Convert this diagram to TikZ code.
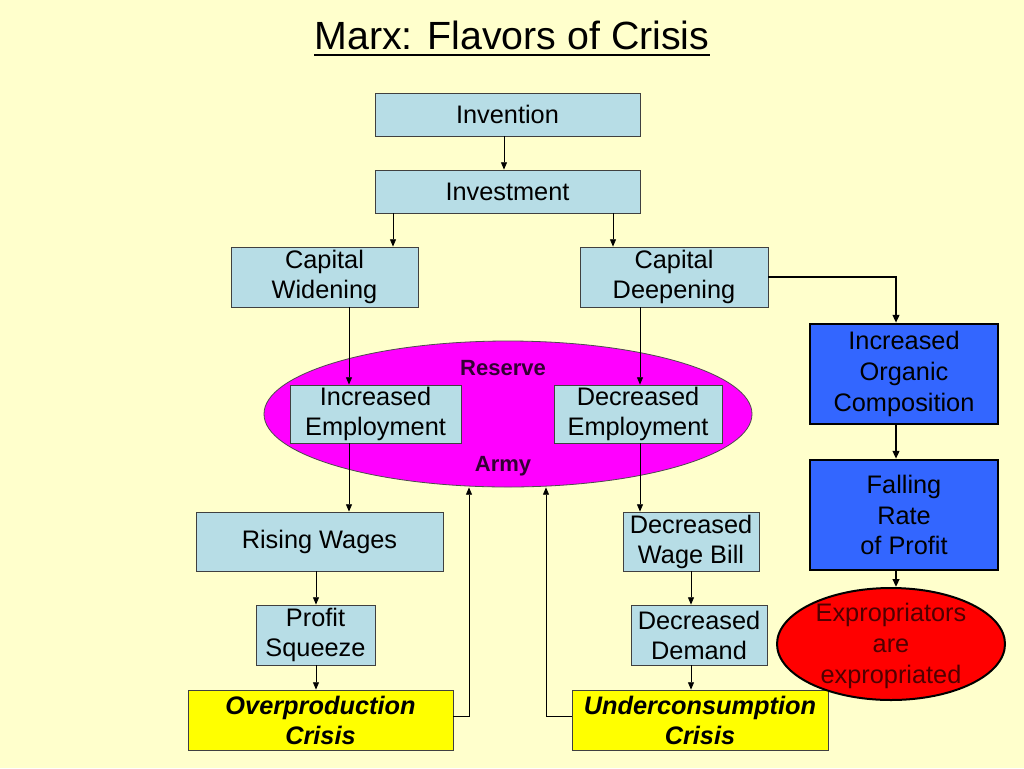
\documentclass[tikz,border=0pt]{standalone}
\usepackage{fontspec}
\setmainfont{Liberation Sans}
\usetikzlibrary{arrows.meta,shapes.geometric}
\definecolor{bgyellow}{HTML}{FFFFCC}
\definecolor{boxblue}{HTML}{B7DDE6}
\definecolor{deepblue}{HTML}{3366FF}
\definecolor{crisisyellow}{HTML}{FFFF00}
\definecolor{armymagenta}{HTML}{FF00FF}
\definecolor{armytext}{HTML}{330033}
\definecolor{redfill}{HTML}{FF0000}
\definecolor{redtext}{HTML}{500000}
\begin{document}
\begin{tikzpicture}[x=0.75pt,y=-0.75pt,
  boxtext/.style={font=\fontsize{19}{22.5}\selectfont},
  box/.style={boxtext,draw=black!75,line width=0.6pt,fill=boxblue,align=center,inner sep=0pt},
  crisis/.style={box,fill=crisisyellow,font=\fontsize{19}{22.5}\selectfont\bfseries\itshape},
  bluebox/.style={draw=black,line width=1.8pt,fill=deepblue,align=center,inner sep=0pt,font=\fontsize{19}{23}\selectfont},
  armylabel/.style={font=\fontsize{16.5}{18}\selectfont\bfseries,text=armytext},
  arr/.style={-{Triangle[length=5.5pt,width=4.5pt]},line width=0.6pt},
  thickarr/.style={-{Triangle[length=6pt,width=5pt]},line width=1.5pt}]
\useasboundingbox[fill=bgyellow] (0,0) rectangle (1024,768);

% title
\node[inner sep=0pt,anchor=base,font=\fontsize{29.5}{34}\selectfont] (title) at (512,49) {Marx: Flavors of Crisis};
\draw[line width=1.4pt] ([yshift=-4.5pt]title.base west) -- ([yshift=-4.5pt]title.base east);

% reserve army ellipse
\node[ellipse,draw=black!70,line width=0.6pt,fill=armymagenta,minimum width=366pt,minimum height=109.5pt,inner sep=0pt] (army) at (508,414) {};
\node[armylabel] (reserve) at (503,368) {Reserve};
\node[armylabel] (armylbl) at (503,466) {Army};

% boxes
\node[box,minimum width=198.75pt,minimum height=32.25pt] (inv) at (507.5,114.5) {Invention};
\node[box,minimum width=198.75pt,minimum height=32.25pt] (invest) at (507.5,191.5) {Investment};
\node[box,minimum width=140.25pt,minimum height=45pt] (cw) at (324.5,277) {Capital\\Widening};
\node[box,minimum width=141pt,minimum height=45pt] (cd) at (674,277) {Capital\\Deepening};
\node[box,minimum width=128.25pt,minimum height=43.5pt] (ie) at (375.5,414) {Increased\\Employment};
\node[box,minimum width=126pt,minimum height=43.5pt] (de) at (638,414) {Decreased\\Employment};
\node[box,minimum width=185.25pt,minimum height=44.25pt] (rw) at (319.5,541.5) {Rising Wages};
\node[box,minimum width=89.25pt,minimum height=45pt] (ps) at (315.5,635) {Profit\\Squeeze};
\node[crisis,minimum width=198.75pt,minimum height=45pt] (oc) at (320.5,720) {Overproduction\\Crisis};
\node[box,minimum width=102pt,minimum height=44.25pt] (dwb) at (691,541.5) {Decreased\\Wage Bill};
\node[box,minimum width=102pt,minimum height=45pt] (dd) at (699,635) {Decreased\\Demand};
\node[crisis,minimum width=192pt,minimum height=45pt] (uc) at (700,720) {Underconsumption\\Crisis};
\node[bluebox,minimum width=141pt,minimum height=75pt] (ioc) at (904,374) {Increased\\Organic\\Composition};
\node[bluebox,minimum width=141pt,minimum height=82.5pt] (frp) at (904,515) {Falling\\Rate\\of Profit};
\node[ellipse,draw=black,line width=1.5pt,fill=redfill,minimum width=171pt,minimum height=84pt,inner sep=0pt] (exp) at (891,644) {};
\node[align=center,text=redtext,font=\fontsize{19}{23}\selectfont] (explbl) at (891,646) {Expropriators\\are\\expropriated};

% connector x positions
\coordinate (xa) at (504,0);
\coordinate (xb) at (393,0);
\coordinate (xc) at (613,0);
\coordinate (xd) at (349,0);
\coordinate (xe) at (640,0);
\coordinate (xf) at (316,0);
\coordinate (xg) at (691,0);
\coordinate (xh) at (469,0);
\coordinate (xi) at (546,0);
\coordinate (xj) at (896,0);
\coordinate (yo) at (0,716);

\draw[arr] (xa |- inv.south) -- (xa |- invest.north);
\draw[arr] (xb |- invest.south) -- (xb |- cw.north);
\draw[arr] (xc |- invest.south) -- (xc |- cd.north);
\draw[arr] (xd |- cw.south) -- (xd |- ie.north);
\draw[arr] (xe |- cd.south) -- (xe |- de.north);
\draw[arr] (xd |- ie.south) -- (xd |- rw.north);
\draw[arr] (xe |- de.south) -- (xe |- dwb.north);
\draw[arr] (xf |- rw.south) -- (xf |- ps.north);
\draw[arr] (xf |- ps.south) -- (xf |- oc.north);
\draw[arr] (xg |- dwb.south) -- (xg |- dd.north);
\draw[arr] (xg |- dd.south) -- (xg |- uc.north);
\draw[arr] (oc.east |- yo) -- (xh |- yo) -- (xh |- army.south);
\draw[arr] (uc.west |- yo) -- (xi |- yo) -- (xi |- army.south);
\draw[thickarr] (cd.east) -- (cd.east -| xj) -- (xj |- ioc.north);
\draw[thickarr] (xj |- ioc.south) -- (xj |- frp.north);
\draw[thickarr] (xj |- frp.south) -- (xj |- exp.north);
\end{tikzpicture}
\end{document}
